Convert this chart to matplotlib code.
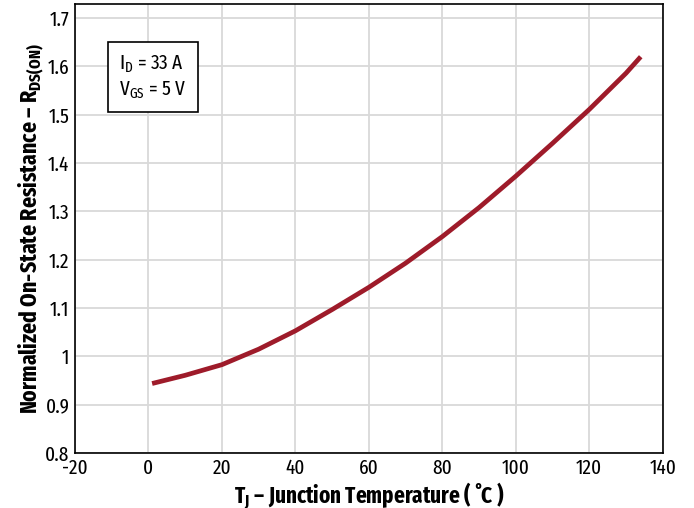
import matplotlib
matplotlib.use("Agg")
import matplotlib.pyplot as plt

# junction temperature (deg C) and normalized R_DS(on)
temp_c = [1, 10, 20, 30, 40, 50, 60, 70, 80, 90, 100, 110, 120, 130, 134]
r_norm = [0.944, 0.961, 0.983, 1.015, 1.053, 1.097, 1.143, 1.193, 1.248, 1.308,
          1.373, 1.441, 1.511, 1.586, 1.620]

x_ticks = [-20, 0, 20, 40, 60, 80, 100, 120, 140]
y_ticks = [0.8, 0.9, 1.0, 1.1, 1.2, 1.3, 1.4, 1.5, 1.6, 1.7]
y_tick_labels = ["0.8", "0.9", "1", "1.1", "1.2", "1.3", "1.4", "1.5", "1.6", "1.7"]
x_tick_labels = ["-20", "0", "20", "40", "60", "80", "100", "120", "140"]

font = 'Fira Sans Extra Condensed'
plt.rcParams['font.family'] = [font, 'DejaVu Sans']
plt.rcParams['mathtext.fontset'] = 'custom'
plt.rcParams['mathtext.rm'] = font
plt.rcParams['mathtext.bf'] = font + ':bold'

fig = plt.figure(figsize=(6.94, 5.08), dpi=100)
ax = fig.add_axes([0.108, 0.108, 0.847, 0.885])

ax.plot(temp_c, r_norm, color='#9e1b2a', lw=3.4, solid_capstyle='butt',
        solid_joinstyle='round', zorder=3)

ax.set_xlim(-20, 140)
ax.set_ylim(0.8, 1.73)
ax.set_xticks(x_ticks)
ax.set_xticklabels(x_tick_labels)
ax.set_yticks(y_ticks)
ax.set_yticklabels(y_tick_labels)
ax.tick_params(length=0, labelsize=15)
ax.tick_params(axis='x', pad=4)
ax.tick_params(axis='y', pad=4)
ax.grid(True, color='#d9d9d9', lw=1.3)
ax.set_axisbelow(True)
for s in ax.spines.values():
    s.set_color('black')
    s.set_linewidth(1.2)

ax.set_xlabel(r'T$_\mathbf{J}$ – Junction Temperature ( ˚C )', fontsize=16.5,
              fontweight='bold', va='top')
ax.xaxis.set_label_coords(0.5, -0.061)
ax.set_ylabel(r'Normalized On-State Resistance – R$_\mathbf{DS(ON)}$', fontsize=17,
              fontweight='bold', labelpad=-1)

ax.text(0.075, 0.89, 'I$_\\mathrm{D}$ = 33 A\nV$_\\mathrm{GS}$ = 5 V', transform=ax.transAxes,
        fontsize=15, va='top', ha='left', linespacing=1.3,
        bbox=dict(boxstyle='square,pad=0.55', fc='white', ec='black', lw=1.2))

fig.savefig('out.png', dpi=100)
